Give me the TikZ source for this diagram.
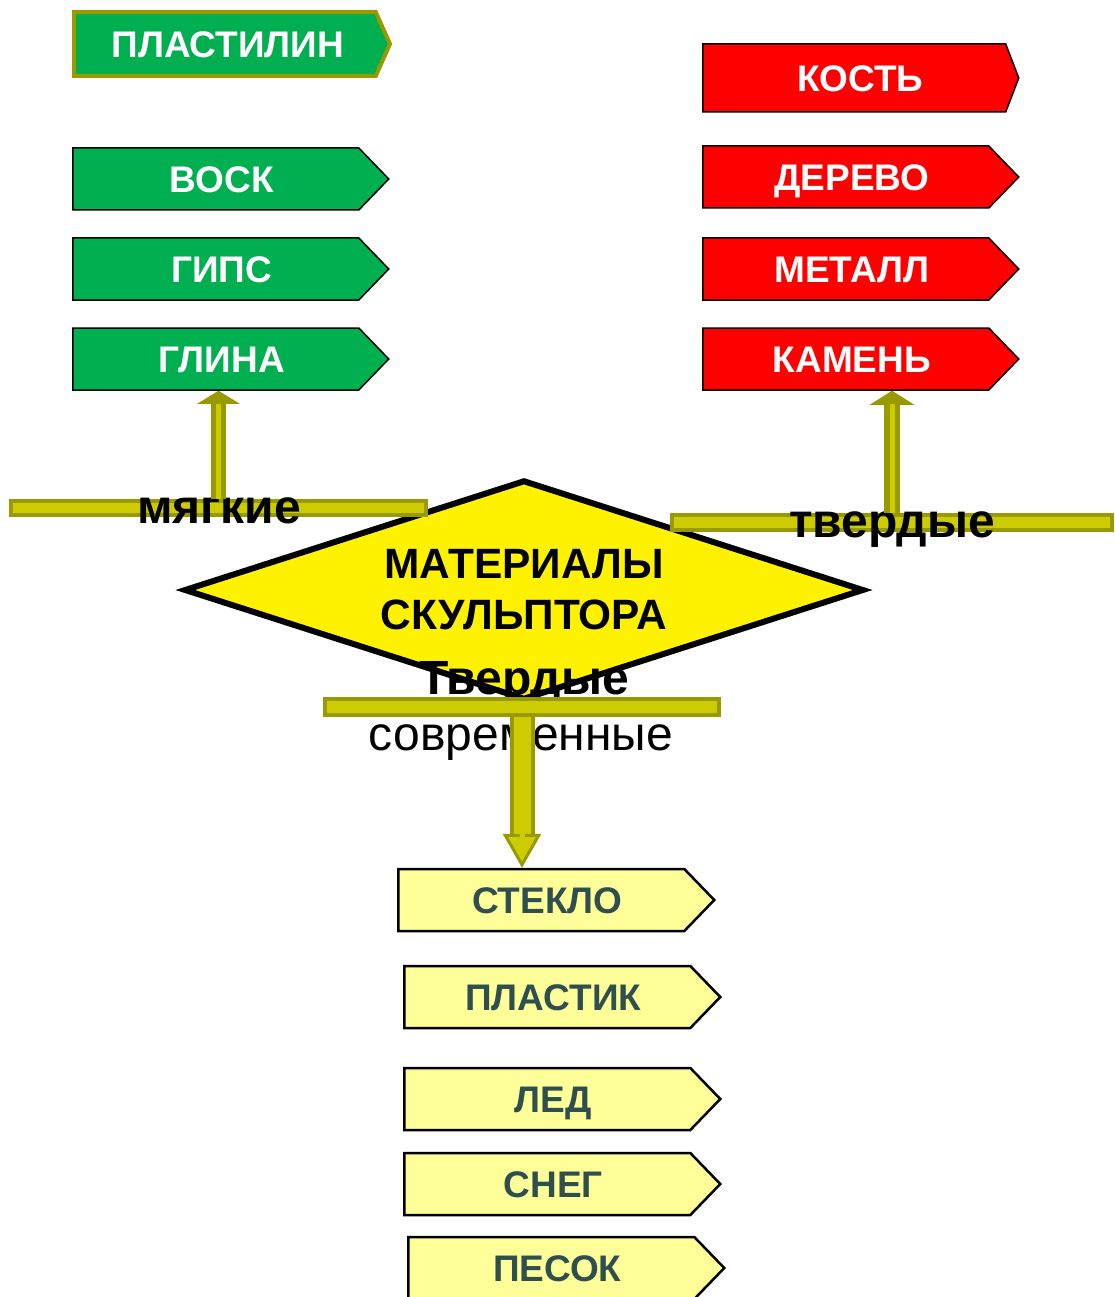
\documentclass[tikz,border=0pt]{standalone}
\usepackage{fontspec}
\setmainfont{Liberation Sans}
\usetikzlibrary{shapes.geometric, shapes.symbols, arrows.meta, positioning}

\definecolor{leafgreen}{RGB}{0,176,80}
\definecolor{olivedark}{RGB}{153,153,0}
\definecolor{olivelight}{RGB}{204,204,0}
\definecolor{paleyellow}{RGB}{255,255,153}
\definecolor{slatetext}{RGB}{47,79,79}

\tikzset{
    tag/.style={signal, signal to=east, anchor=west, minimum width=316pt,
        minimum height=62pt, inner sep=0pt, text height=26.5pt, text depth=0pt,
        font=\bfseries\fontsize{37}{40}\selectfont, execute at begin node={\hspace*{12pt}}},
    softtag/.style={tag, fill=leafgreen, draw=black, line width=1.5pt, text=white, signal pointer angle=92},
    hardtag/.style={tag, fill=red, draw=black, line width=1.5pt, text=white, signal pointer angle=92},
    modtag/.style={tag, fill=paleyellow, draw=black, line width=2.5pt, text=slatetext, signal pointer angle=92},
    bar/.style={rectangle, draw=olivedark, fill=olivelight, line width=4pt, inner sep=0pt},
    caption/.style={inner sep=0pt, font=\bfseries\fontsize{48}{52}\selectfont},
    stem/.style={draw=olivedark, line width=15pt, -{Triangle[length=13pt, width=42pt]},
        postaction={draw=olivelight, line width=5pt, -, shorten >=13pt}}
}

\begin{document}
\begin{tikzpicture}[x=1pt, y=-1pt]
\useasboundingbox (0,0) rectangle (1114,1297);

% Soft materials (green tags)
\node[softtag, draw=olivedark, line width=4pt, minimum height=64pt, signal pointer angle=132,
    execute at begin node={\hspace*{-6pt}}] (plastilin) at (72,44) {ПЛАСТИЛИН};
\foreach \n/\t/\y in {vosk/ВОСК/179, gips/ГИПС/269, glina/ГЛИНА/359}
{
    \node[softtag] (\n) at (72,\y) {\t};
}

% Hard materials (red tags)
\node[hardtag, minimum height=68pt, signal pointer angle=138] (kost) at (702,78) {КОСТЬ};
\foreach \n/\t/\y in {derevo/ДЕРЕВО/177, metall/МЕТАЛЛ/269, kamen/КАМЕНЬ/359}
{
    \node[hardtag] (\n) at (702,\y) {\t};
}

% Modern materials (yellow tags)
\foreach \n/\t/\x/\y in {steklo/СТЕКЛО/397/900, plastik/ПЛАСТИК/403/997, led/ЛЕД/403/1099, sneg/СНЕГ/403/1184, pesok/ПЕСОК/407/1268}
{
    \node[modtag] (\n) at (\x,\y) {\t};
}

% Centre
\node[diamond, aspect=3.15, draw=black, fill=yellow, line width=6pt, minimum width=680pt, minimum height=220pt,
    inner sep=0pt, align=center, font=\bfseries\fontsize{42.4}{51}\selectfont] (core) at (524,590) {МАТЕРИАЛЫ\\СКУЛЬПТОРА};
\node[caption] (modhead) at (524,683) {Твердые};

% Bars
\node[bar, minimum width=415pt, minimum height=14pt] (softbar) at (218.5,508) {};
\node[bar, minimum width=440pt, minimum height=15pt] (hardbar) at (892,522.5) {};
\node[bar, minimum width=394pt, minimum height=16pt] (modbar) at (522,707) {};

% Labels
\node[caption] (softlabel) at (219,511) {мягкие};
\node[caption] (hardlabel) at (892,530) {твердые};
\node[caption, font=\fontsize{48}{52}\selectfont] (modlabel) at (521,743) {современные};

% Arrows
\draw[stem] (softbar.north) -- (softbar.north |- glina.south);
\draw[stem, line width=16pt, -{Triangle[length=14pt, width=44pt]}] (hardbar.north) -- (hardbar.north |- kamen.south);
\draw[stem, line width=25pt, -{Triangle[length=34pt, width=38pt, fill=olivelight, line width=3pt]},
    postaction={draw=olivelight, line width=17pt, -, shorten >=34pt}] (modbar.south) -- (modbar.south |- steklo.north);

\end{tikzpicture}
\end{document}
